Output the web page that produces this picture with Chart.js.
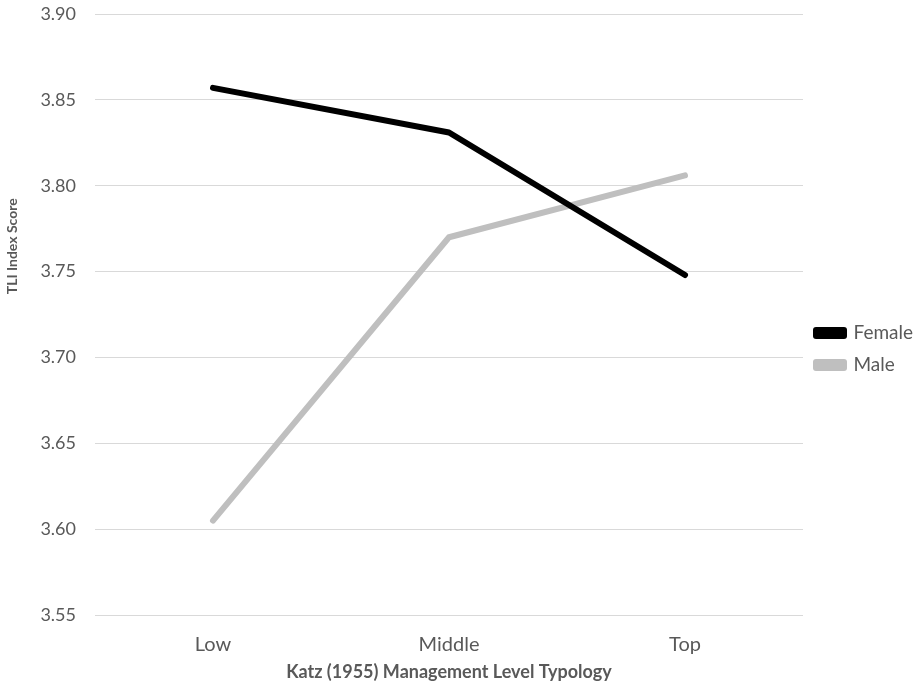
<!DOCTYPE html>
<html>
<head>
<meta charset="utf-8">
<script src="https://cdn.jsdelivr.net/npm/chart.js@4.4.0/dist/chart.umd.min.js"></script>
<style>
  html, body { margin: 0; padding: 0; background: #fff; }
  #wrap { width: 919px; height: 687px; }
</style>
</head>
<body>
<div id="wrap"><canvas id="tli-chart" width="919" height="687"></canvas></div>
<script>
// data
const levels = ['Low', 'Middle', 'Top'];
const femaleScores = [3.857, 3.831, 3.748];
const maleScores = [3.605, 3.770, 3.806];
const yTicks = [3.55, 3.60, 3.65, 3.70, 3.75, 3.80, 3.85, 3.90];

const fontFamily = 'Lato, "Open Sans", sans-serif';
const textGrey = '#595959';

// keep the legend column a fixed width so the plot ends where the original does
const legendWidthPlugin = {
  id: 'legendWidth',
  beforeLayout(chart) {
    const lg = chart.legend;
    if (lg && !lg._fixedWidth) {
      const origFit = lg.fit.bind(lg);
      lg.fit = function () {
        origFit();
        this.width = 116;
      };
      lg._fixedWidth = true;
    }
  },
};

const ctx = document.getElementById('tli-chart').getContext('2d');

new Chart(ctx, {
  type: 'line',
  data: {
    labels: levels,
    datasets: [
      {
        label: 'Female',
        data: femaleScores,
        borderColor: '#000000',
        backgroundColor: '#000000',
        borderWidth: 6,
        pointRadius: 0,
        tension: 0,
        borderCapStyle: 'round',
        borderJoinStyle: 'round',
      },
      {
        label: 'Male',
        data: maleScores,
        borderColor: '#bfbfbf',
        backgroundColor: '#bfbfbf',
        borderWidth: 6,
        pointRadius: 0,
        tension: 0,
        borderCapStyle: 'round',
        borderJoinStyle: 'round',
      },
    ],
  },
  plugins: [legendWidthPlugin],
  options: {
    responsive: false,
    animation: false,
    layout: { padding: { top: 0, right: 0, bottom: 0, left: 0 } },
    scales: {
      x: {
        offset: true,
        grid: { display: false, drawTicks: false },
        border: { display: false },
        ticks: {
          color: textGrey,
          font: { family: fontFamily, size: 20 },
          padding: 18,
        },
        title: {
          display: true,
          text: 'Katz (1955) Management Level Typology',
          color: textGrey,
          font: { family: fontFamily, size: 18, weight: 'bold' },
          padding: { top: 0, bottom: 4 },
        },
        afterFit: (axis) => {
          axis.height = 72;
        },
      },
      y: {
        min: 3.55,
        max: 3.90,
        afterBuildTicks: (axis) => {
          axis.ticks = yTicks.map(v => ({ value: v }));
        },
        grid: { color: '#d9d9d9', lineWidth: 1, drawTicks: false },
        border: { display: false },
        ticks: {
          color: textGrey,
          font: { family: fontFamily, size: 18 },
          padding: 19,
          callback: (v) => Number(v).toFixed(2),
        },
        title: {
          display: true,
          // leading em spaces lift the title above the middle, as in the original
          text: '\u2003'.repeat(13) + 'TLI Index Score',
          color: textGrey,
          font: { family: fontFamily, size: 14, weight: 'bold' },
          padding: { top: 4, bottom: 0 },
        },
        afterFit: (axis) => {
          axis.width = 95;
          axis.paddingTop = 14;
          axis.paddingBottom = 0;
        },
      },
    },
    plugins: {
      legend: {
        display: true,
        position: 'right',
        title: {
          display: true,
          text: ' ',
          padding: 0,
          font: { family: fontFamily, size: 9 },
        },
        labels: {
          color: textGrey,
          font: { family: fontFamily, size: 19 },
          boxWidth: 28,
          boxHeight: 6,
          padding: 13,
        },
      },
      tooltip: { enabled: false },
    },
  },
});
</script>
</body>
</html>
